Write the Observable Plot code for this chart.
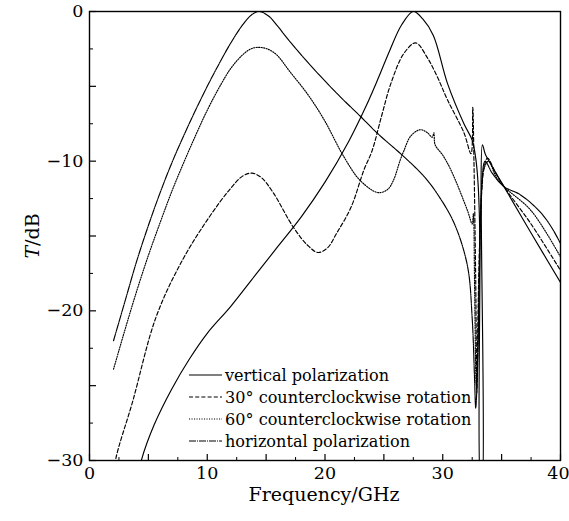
<!DOCTYPE html>
<html><head><meta charset="utf-8">
<script src="https://cdn.jsdelivr.net/npm/d3@7"></script>
<script src="https://cdn.jsdelivr.net/npm/@observablehq/plot@0.6"></script>
<style>
body{margin:0;background:#fff;}
#wrap{position:relative;width:569px;height:521px;font-family:'DejaVu Serif','Noto Serif','Times New Roman',Times,serif;color:#000;}
#legend{position:absolute;left:189px;top:364px;font-size:16.1px;}
#legend .row{display:flex;align-items:center;height:22px;white-space:nowrap;}
#legend svg{margin-right:2px;}
</style></head><body><div id="wrap"></div>
<script>
// ---- data (frequency in GHz, transmission T in dB) ----
const seriesNames = ["vertical polarization", "30° counterclockwise rotation", "60° counterclockwise rotation", "horizontal polarization"];

const fVert = [3.9, 4.4, 5.5, 7.0, 8.5, 10.0, 12.0, 14.0, 16.0, 18.0, 20.0, 22.0, 23.5, 24.5, 25.5, 26.5, 27.5, 28.3, 29.2, 30.4, 31.8, 32.5, 32.8, 33.0, 33.15, 33.25, 33.32, 33.37, 33.6, 34.3, 35.2, 37.5, 40.0];
const tVert = [-32, -30, -27.6, -25.2, -23.2, -21.5, -19.7, -17.7, -15.7, -13.7, -11.4, -8.7, -6.3, -4.5, -2.6, -0.9, 0, -0.5, -1.6, -4.8, -7.5, -8.6, -9.8, -11.5, -15, -32, -32, -8.9, -9.5, -10.5, -11.7, -14.8, -18.1];

const f30 = [2.0, 2.2, 3.65, 5.66, 7.9, 10.2, 11.9, 13.0, 13.8, 14.6, 15.6, 17.3, 18.5, 19.4, 20.2, 21.0, 22.2, 23.3, 24.0, 24.8, 25.6, 26.7, 27.7, 28.7, 29.5, 30.4, 31.8, 32.4, 32.55, 32.65, 32.8, 32.9, 33.0, 33.2, 33.5, 33.8, 34.5, 35.2, 37.5, 40.0];
const t30 = [-31.5, -30, -26.1, -20.4, -16.6, -13.7, -11.9, -11.0, -10.8, -11.1, -12.1, -14.4, -15.6, -16.1, -15.8, -14.8, -13.1, -10.6, -9.3, -7.0, -4.8, -2.8, -2.1, -3.1, -4.3, -5.9, -8.1, -9.5, -6.4, -10.0, -18.0, -25.5, -20.0, -14.0, -10.5, -9.8, -10.8, -11.7, -14.2, -17.3];

const f60 = [2.04, 3.0, 4.0, 5.0, 6.0, 7.0, 8.0, 9.0, 10.0, 11.0, 12.0, 13.0, 13.7, 14.3, 15.1, 15.9, 17.0, 18.5, 19.9, 21.6, 23.0, 24.5, 25.3, 25.8, 26.4, 26.7, 27.3, 28.1, 28.7, 29.1, 29.25, 29.35, 30.0, 30.7, 32.1, 32.5, 32.6, 32.7, 32.85, 33.0, 33.2, 33.5, 33.9, 34.5, 35.2, 37.5, 40.0];
const t60 = [-23.9, -21.3, -18.7, -16.3, -14.1, -12.0, -10.1, -8.3, -6.6, -5.1, -3.8, -2.9, -2.5, -2.4, -2.5, -2.9, -4.0, -5.5, -7.2, -9.7, -11.3, -12.1, -11.9, -11.3, -9.9, -9.3, -8.3, -7.9, -8.1, -8.4, -8.1, -8.9, -9.6, -10.6, -13.3, -14.2, -13.5, -18.0, -25.0, -22.0, -14.0, -10.5, -10.0, -11.0, -11.7, -13.3, -16.4];

const fHor = [2.04, 3.0, 4.0, 5.0, 6.0, 7.0, 8.0, 9.0, 10.0, 11.0, 12.0, 13.0, 13.8, 14.4, 15.2, 16.0, 16.8, 19.0, 21.3, 23.0, 24.4, 26.7, 28.5, 29.8, 31.0, 32.1, 32.5, 32.7, 32.8, 32.95, 33.1, 33.3, 33.6, 34.2, 35.2, 36.5, 37.5, 38.5, 39.3, 40.0];
const tHor = [-22.0, -19.4, -16.7, -14.3, -12.1, -10.1, -8.3, -6.6, -5.0, -3.5, -2.1, -0.9, -0.2, 0, -0.3, -1.0, -1.8, -3.8, -5.7, -7.0, -8.1, -9.7, -11.1, -12.5, -14.2, -17.0, -20.5, -24.5, -26.5, -24.0, -18.0, -12.0, -10.0, -10.8, -11.7, -12.2, -12.8, -13.6, -14.5, -15.5];

const xTickLabels = [0, 10, 20, 30];
const xLastTickLabel = [40];
const yTickLabels = [0, -10, -20, -30];

// ---- build table ----
const dashes = ["none", "4,2.2", "1.1,1.4", "7,1,1,1"];
const seriesData = [[fVert, tVert], [f30, t30], [f60, t60], [fHor, tHor]];
const rows = [];
seriesData.forEach(([fs, ts], i) => fs.forEach((f, j) => rows.push({f, t: ts[j], series: seriesNames[i]})));

const fmt = d => d < 0 ? "\u2212" + (-d) : String(d);
const font = "'DejaVu Serif','Noto Serif','Times New Roman',Times,serif";

const plot = Plot.plot({
  width: 569, height: 521,
  marginLeft: 89, marginRight: 9, marginTop: 11, marginBottom: 61,
  style: {fontFamily: font, background: "white", color: "black", overflow: "visible"},
  x: {domain: [0, 40]},
  y: {domain: [-30, 0]},
  marks: [
    ...seriesNames.map((name, i) => Plot.line(rows.filter(r => r.series === name), {
      x: "f", y: "t", stroke: "black", strokeWidth: 1.15,
      strokeDasharray: dashes[i], curve: "catmull-rom", clip: true
    })),
    Plot.tickX(d3.range(0, 40.01, 5), {x: d => d, stroke: "black", strokeWidth: 1.2, insetTop: 443}),
    Plot.tickX(d3.range(2.5, 40, 5), {x: d => d, stroke: "black", strokeWidth: 1, insetTop: 446}),
    Plot.tickY(d3.range(-30, 0.01, 5), {y: d => d, stroke: "black", strokeWidth: 1.2, insetRight: 464}),
    Plot.tickY(d3.range(-27.5, 0, 5), {y: d => d, stroke: "black", strokeWidth: 1, insetRight: 467}),
    Plot.frame({stroke: "black", strokeWidth: 1.4}),
    Plot.axisX(xTickLabels, {tickSize: 0, tickPadding: 6, fontSize: 17.5, label: null, tickFormat: fmt}),
    Plot.axisX(xLastTickLabel, {tickSize: 0, tickPadding: 6, fontSize: 17.5, label: null, tickFormat: fmt, dx: -2}),
    Plot.axisY(yTickLabels, {tickSize: 0, tickPadding: 6, fontSize: 17.5, label: null, tickFormat: fmt})
  ]
});

const wrap = document.getElementById("wrap");
wrap.appendChild(plot);

const svg = d3.select(plot);
svg.append("text").attr("x", 324).attr("y", 501).attr("text-anchor", "middle")
  .attr("font-size", 19).style("font-family", font).text("Frequency/GHz");
const yl = svg.append("text").attr("transform", "translate(39,236) rotate(-90)").attr("text-anchor", "middle")
  .attr("font-size", 19).style("font-family", font);
yl.append("tspan").attr("font-style", "italic").text("T");
yl.append("tspan").text("/dB");

// ---- legend ----
const legend = document.createElement("div");
legend.id = "legend";
seriesNames.forEach((name, i) => {
  const row = document.createElement("div");
  row.className = "row";
  const s = d3.create("svg").attr("width", 34).attr("height", 10);
  s.append("line").attr("x1", 0).attr("x2", 33).attr("y1", 5).attr("y2", 5)
    .attr("stroke", "black").attr("stroke-width", 1.1).attr("stroke-dasharray", dashes[i]);
  row.appendChild(s.node());
  const sp = document.createElement("span");
  sp.textContent = name;
  row.appendChild(sp);
  legend.appendChild(row);
});
wrap.appendChild(legend);
</script></body></html>
